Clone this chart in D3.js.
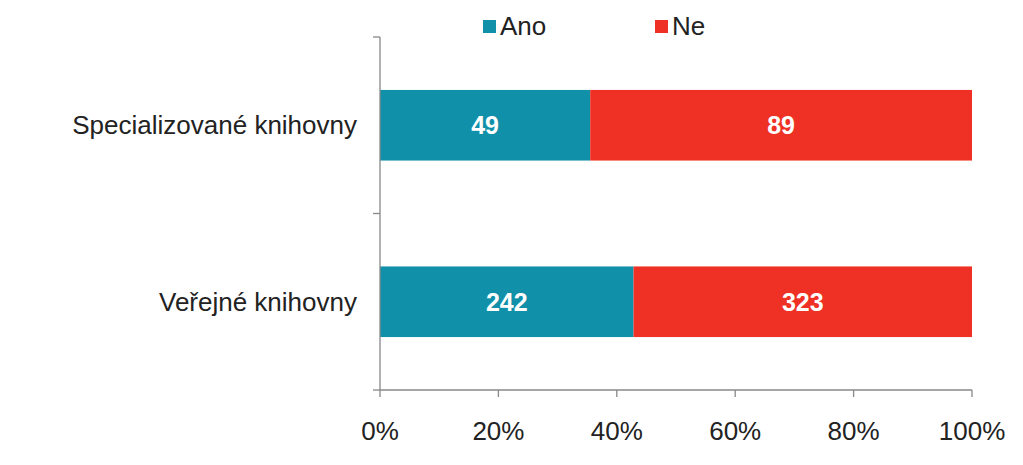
<!DOCTYPE html>
<html><head><meta charset="utf-8">
<script src="https://cdn.jsdelivr.net/npm/d3@7"></script>
<style>body{margin:0;background:#fff}svg{font-family:Arial,"Liberation Sans",sans-serif}</style>
</head><body><svg id="c" width="1023" height="465"></svg>
<script>
var categories = ["Specializované knihovny", "Veřejné knihovny"];
var ano = [49, 242];
var ne = [89, 323];
var seriesNames = ["Ano", "Ne"];
var colors = ["#1190a9", "#ee3124"];
var ticks = [0, 0.2, 0.4, 0.6, 0.8, 1];

var svg = d3.select("#c");
var x = d3.scaleLinear().domain([0, 1]).range([380, 972]);
var y = d3.scaleBand().domain(categories).range([37, 390]).paddingInner(0.6).paddingOuter(0.3);

var data = categories.map(function(c, i){
  var t = ano[i] + ne[i];
  return {cat: c, vals: [ano[i], ne[i]], t: t};
});

data.forEach(function(d){
  var x0 = 0;
  d.vals.forEach(function(v, j){
    var f = v / d.t;
    svg.append("rect").attr("x", x(x0)).attr("y", y(d.cat))
      .attr("width", x(x0 + f) - x(x0)).attr("height", y.bandwidth()).attr("fill", colors[j]);
    svg.append("text").attr("x", (x(x0) + x(x0 + f)) / 2).attr("y", y(d.cat) + y.bandwidth()/2 + 9)
      .attr("text-anchor", "middle").attr("fill", "#fff").attr("font-weight", "bold")
      .attr("font-size", 25).text(v);
    x0 += f;
  });
});

var ax = svg.append("g").attr("stroke", "#888").attr("stroke-width", 1.3);
ax.append("line").attr("x1", 380).attr("x2", 380).attr("y1", 37).attr("y2", 390);
ax.append("line").attr("x1", 380).attr("x2", 972).attr("y1", 390).attr("y2", 390);
[37, 213.5, 390].forEach(function(v){
  ax.append("line").attr("x1", 373).attr("x2", 380).attr("y1", v).attr("y2", v);
});
ticks.forEach(function(t){
  ax.append("line").attr("x1", x(t)).attr("x2", x(t)).attr("y1", 390).attr("y2", 397);
  svg.append("text").attr("x", x(t)).attr("y", 440).attr("text-anchor", "middle")
    .attr("font-size", 26).attr("fill", "#222").text(d3.format(".0%")(t));
});
categories.forEach(function(c){
  svg.append("text").attr("x", 357).attr("y", y(c) + y.bandwidth()/2 + 9).attr("text-anchor", "end")
    .attr("font-size", 26).attr("fill", "#222").text(c);
});

var lx = [483, 655];
seriesNames.forEach(function(n, i){
  svg.append("rect").attr("x", lx[i]).attr("y", 20).attr("width", 13).attr("height", 13).attr("fill", colors[i]);
  svg.append("text").attr("x", lx[i] + 17).attr("y", 35).attr("font-size", 26).attr("fill", "#222").text(n);
});
</script></body></html>
